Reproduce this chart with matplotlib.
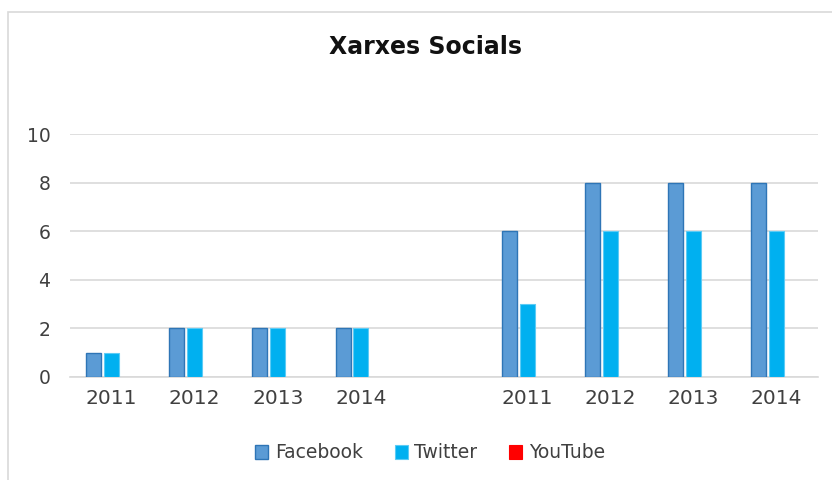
import matplotlib
matplotlib.use("Agg")
import matplotlib.pyplot as plt
from matplotlib.patches import Rectangle
import numpy as np

categories = ["2011", "2012", "2013", "2014", "", "2011", "2012", "2013", "2014"]
facebook = [1, 2, 2, 2, np.nan, 6, 8, 8, 8]
twitter = [1, 2, 2, 2, np.nan, 3, 6, 6, 6]
youtube = [np.nan] * 9
series_names = ["Facebook", "Twitter", "YouTube"]
yticks = [0, 2, 4, 6, 8, 10]

plt.rcParams['font.family'] = ['DejaVu Sans']
plt.rcParams['font.sans-serif'] = ['DejaVu Sans']
fig = plt.figure(figsize=(8.32, 4.8), dpi=100)
fig.patch.set_facecolor("white")

# chart border
fig.add_artist(Rectangle((8/832, -0.01), 1.02, 1 - 12/480 + 0.01, transform=fig.transFigure,
                         fill=False, edgecolor="#d9d9d9", linewidth=1.2))

ax = fig.add_axes([70/832, 103/480, 748/832, 243/480])
x = np.arange(len(categories))
w = 0.18
off = 0.215
ax.bar(x - off, facebook, w, color="#5B9BD5", edgecolor="#2E75B6", linewidth=1.0,
       label=series_names[0], zorder=3)
ax.bar(x, twitter, w, color="#00B0F0", edgecolor="#5CCBF5", linewidth=0.8,
       label=series_names[1], zorder=3)
ax.bar(x + off, youtube, w, color="#FF0000", edgecolor="#FF0000", linewidth=0.8,
       label=series_names[2], zorder=3)

ax.set_xlim(-0.5, len(categories) - 0.5)
ax.set_ylim(0, 10)
ax.set_yticks(yticks)
ax.set_yticklabels([str(t) for t in yticks], fontsize=13.5, color="#404040", family="DejaVu Sans")
ax.set_xticks(x)
ax.set_xticklabels(categories, fontsize=14.5, color="#404040", family="DejaVu Sans")
ax.tick_params(axis='both', length=0)
ax.tick_params(axis='y', pad=14)
ax.tick_params(axis='x', pad=9)
ax.grid(axis='y', color="#d9d9d9", linewidth=1.2, zorder=0)
for s in ["top", "right", "left"]:
    ax.spines[s].set_visible(False)
ax.spines["bottom"].set_color("#d9d9d9")
ax.spines["bottom"].set_linewidth(1.2)

fig.text(426/832, 1 - 47/480, "Xarxes Socials", ha="center", va="center",
         fontsize=17, fontweight="bold", family=["Liberation Sans Narrow", "DejaVu Sans"],
         color="#111111")

leg = fig.legend(loc="center", bbox_to_anchor=(430/832, 1 - 453/480), ncol=3, frameon=False,
                 prop={"family": "DejaVu Sans", "size": 13.5}, handlelength=0.7,
                 handleheight=0.7, handletextpad=0.35, columnspacing=1.7,
                 labelcolor="#404040")

fig.savefig("out.png", dpi=100, facecolor="white")
